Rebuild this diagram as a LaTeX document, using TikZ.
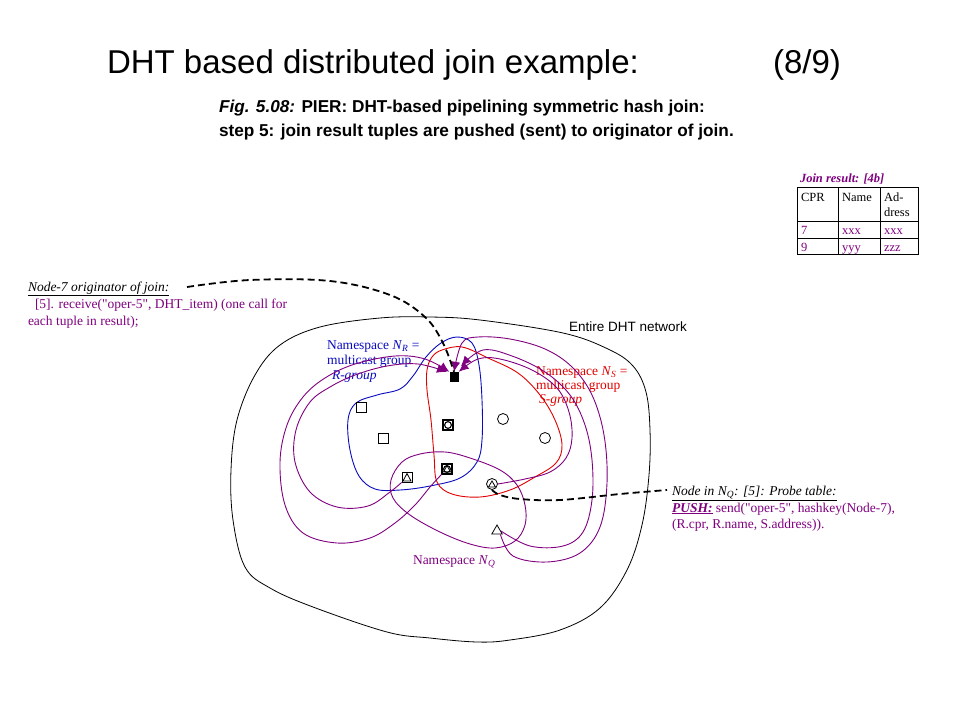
\documentclass[tikz,border=0pt]{standalone}
\usepackage{fontspec}
\setmainfont{Liberation Serif}
\newfontfamily\arial{Liberation Sans}
\usetikzlibrary{arrows.meta,shapes.geometric}
\definecolor{pur}{RGB}{128,0,128}
\definecolor{rblue}{RGB}{10,10,190}
\definecolor{sred}{RGB}{225,0,0}
\newcommand{\dq}{\textquotedbl}
\begin{document}
\begin{tikzpicture}[x=1pt,y=-1pt,
  txt/.style={anchor=base west, inner sep=0pt, outer sep=0pt},
  tm/.style={txt, font=\fontsize{13.5}{15}\selectfont},
  sq/.style={draw, rectangle, minimum size=10pt, inner sep=0pt, line width=0.8pt},
  circ/.style={draw, circle, minimum size=11pt, inner sep=0pt, line width=0.8pt},
  tri/.style={draw, regular polygon, regular polygon sides=3, minimum size=12pt, inner sep=0pt, line width=0.8pt},
  msg/.style={pur, line width=0.9pt, -{Latex[length=10pt,width=9pt]}},
  dsh/.style={line width=1.8pt, dash pattern=on 7pt off 4pt},
  grp/.style={line width=0.9pt}]
\fill[white] (0,0) rectangle (960,720);
\useasboundingbox (0,0) rectangle (960,720);

% title and caption
\node[txt, font=\arial\fontsize{33}{36}\selectfont] (title) at (107,73) {DHT based distributed join example:};
\node[txt, font=\arial\fontsize{33}{36}\selectfont] (page) at (773,73) {(8/9)};
\node[txt, font=\arial\bfseries\fontsize{17.2}{19}\selectfont] (cap1) at (219,112) {\textit{Fig. 5.08:} PIER: DHT-based pipelining symmetric hash join:};
\node[txt, font=\arial\bfseries\fontsize{17.2}{19}\selectfont] (cap2) at (219,136) {step 5: join result tuples are pushed (sent) to originator of join.};

% join result table
\node[txt, font=\bfseries\itshape\fontsize{12.5}{14}\selectfont, text=pur] (jr) at (800,182) {Join result: [4b]};
\draw[line width=0.7pt] (797,187) rectangle (918,254);
\draw[line width=0.7pt] (838,187) -- (838,254) (880,187) -- (880,254)
  (797,221) -- (918,221) (797,238) -- (918,238);
\begin{scope}[every node/.style={txt, font=\fontsize{12.5}{14}\selectfont}]
\node (h1) at (801,201) {CPR};
\node (h2) at (842,201) {Name};
\node (h3) at (884,201) {Ad-};
\node (h4) at (884,216) {dress};
\node[text=pur] (a1) at (801,234) {7};
\node[text=pur] (a2) at (842,234) {xxx};
\node[text=pur] (a3) at (884,234) {xxx};
\node[text=pur] (b1) at (801,251) {9};
\node[text=pur] (b2) at (842,251) {yyy};
\node[text=pur] (b3) at (884,251) {zzz};
\end{scope}

% originator text
\node[tm] (orig) at (28,291) {\underline{\textit{Node-7 originator of join:}}};
\node[tm, text=pur] (recv1) at (35,308) {[5]. receive(\dq oper-5\dq, DHT\_item) (one call for};
\node[tm, text=pur] (recv2) at (28,325) {each tuple in result);};

% entire network outline
\draw[grp, line width=0.8pt] plot[smooth cycle, tension=0.6] coordinates {
  (380,318) (430,317) (480,320) (563,333) (608,349) (633,366) (646,392) (650,430)
  (649,475) (642,525) (627,570) (600,608) (560,630) (510,640) (477,642) (430,638)
  (387,632) (313,607) (270,588) (245,567) (233,520) (231,470) (237,420) (255,375)
  (280,345) (320,327)};
\node[txt, font=\arial\fontsize{13.5}{15}\selectfont] (ent) at (569,331) {Entire DHT network};

% R group (blue)
\draw[rblue, grp] plot[smooth cycle, tension=0.6] coordinates {
  (457,337) (472,343) (479,365) (482,400) (482,440) (477,462) (460,478) (430,486)
  (400,490) (375,489) (359,476) (350,450) (348,420) (356,403) (377,395) (400,389)
  (413,376) (426,357) (441,343)};
% S group (red)
\draw[sred, grp] plot[smooth cycle, tension=0.6] coordinates {
  (442,350) (462,347) (488,358) (518,373) (540,395) (555,420) (562,445) (556,463)
  (535,477) (510,490) (480,497) (452,494) (437,482) (434,455) (431,420) (427,390)
  (427,370) (432,357)};
% Q group (purple)
\draw[pur, grp] plot[smooth cycle, tension=0.6] coordinates {
  (391,480) (402,462) (420,454) (445,452) (470,458) (500,470) (517,485) (525,505)
  (525,525) (515,541) (495,548) (470,544) (440,532) (410,515) (393,498)};

% group labels
\node[tm, text=rblue] (nr1) at (327,349) {Namespace \textit{N}\textsubscript{\textit{R}} =};
\node[tm, text=rblue] (nr2) at (327,364) {multicast group};
\node[tm, text=rblue] (nr3) at (332,379) {\textit{R-group}};
\node[tm, text=sred] (ns1) at (536,375) {Namespace \textit{N}\textsubscript{\textit{S}} =};
\node[tm, text=sred] (ns2) at (536,389) {multicast group};
\node[tm, text=sred] (ns3) at (539,403) {\textit{S-group}};
\node[tm, text=pur] (nq) at (413,564) {Namespace \textit{N}\textsubscript{\textit{Q}}};

% DHT nodes
\node[sq] (r1) at (361,407) {};
\node[sq] (r2) at (383,438) {};
\node[circ] (s1) at (503,419) {};
\node[circ] (s2) at (545,438) {};
\node[sq, line width=1.1pt] (rs) at (448,425) {};
\draw[line width=1.1pt] (rs.center) circle (3.4);
\node[sq, line width=1.1pt] (rsq) at (447,469) {};
\draw[line width=1.1pt] (rsq.center) circle (3.4);
\draw[line width=0.8pt] (443.5,472) -- (447,465.5) -- (450.5,472) -- cycle;
\node[sq] (rq) at (407,477) {};
\draw[line width=0.8pt] (403,481) -- (407,473.5) -- (411,481) -- cycle;
\node[circ] (qc) at (492,484) {};
\draw[line width=0.8pt] (488.5,487) -- (492,481) -- (495.5,487) -- cycle;
\node[tri] (qt) at (497,531) {};
\node[fill=black, minimum width=9pt, minimum height=10pt, inner sep=0pt] (n7) at (454,377) {};

% messages to node 7
\draw[msg] plot[smooth, tension=0.6] coordinates {
  (rsq.south west) (430,487) (415,505) (395,523) (370,538) (337,543) (303,533)
  (285,505) (280,462) (287,425) (303,397) (325,378) (355,364) (395,356) (425,359) (n7.north west)};
\draw[msg] plot[smooth, tension=0.6] coordinates {
  (rq.south west) (390,492) (368,506) (337,507) (310,492) (295,462) (296,430)
  (310,402) (330,387) (355,375) (387,366) (418,364) (447,372)};
\draw[msg] plot[smooth, tension=0.6] coordinates {
  (qc.east) (525,479) (550,472) (566,458) (572,438) (569,412) (557,388) (532,370)
  (500,359) (478,359) (n7.north east)};
\draw[msg] plot[smooth, tension=0.6] coordinates {
  (qt.east) (530,546) (563,546) (583,532) (592,500) (592,460) (585,425) (570,395)
  (545,372) (512,356) (483,350) (461,366)};
\draw[msg] plot[smooth, tension=0.6] coordinates {
  (qt.south east) (513,556) (547,562) (580,553) (600,527) (607,483) (604,435)
  (592,395) (572,367) (545,349) (510,339) (478,337) (462,343) (n7.north)};

% originator dashed connector
\draw[dsh] plot[smooth, tension=0.6] coordinates {
  (187,287) (250,280) (330,281) (390,295) (425,317) (443,343) (n7.north)};

% probe text and connector
\node[tm] (probe) at (672,495) {\underline{\textit{Node in N\textsubscript{Q}: [5]: Probe table:}}};
\node[tm, text=pur] (push) at (672,512) {\underline{\textbf{\textit{PUSH:}}} send(\dq oper-5\dq, hashkey(Node-7),};
\node[tm, text=pur] (tup) at (672,528) {(R.cpr, R.name, S.address)).};
\draw[dsh] plot[smooth, tension=0.6] coordinates {
  (qc.south) (500,495) (520,499) (560,500) (620,494) (667,490)};
\end{tikzpicture}
\end{document}
